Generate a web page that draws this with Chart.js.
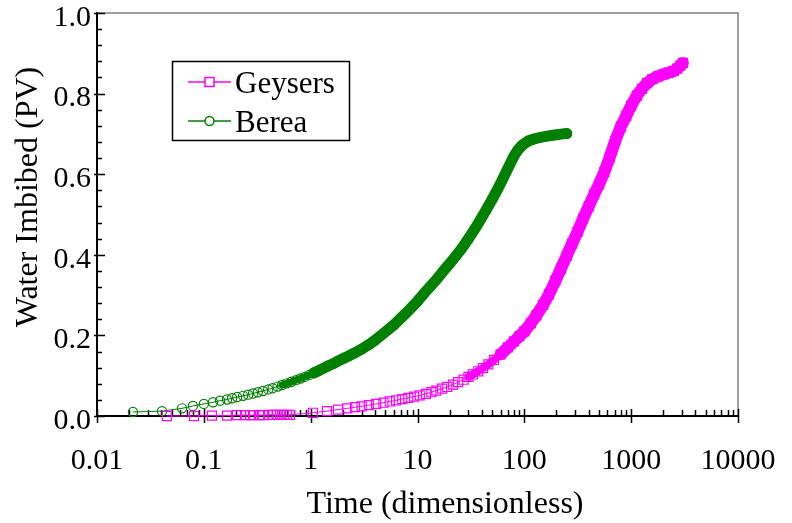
<!DOCTYPE html>
<html>
<head>
<meta charset="utf-8">
<script src="https://cdn.jsdelivr.net/npm/chart.js@4/dist/chart.umd.min.js"></script>
<style>
  html, body { margin: 0; padding: 0; background: #fff; }
  #wrap { width: 792px; height: 523px; }
</style>
</head>
<body>
<div id="wrap"><canvas id="chart" width="792" height="523"></canvas></div>
<script>
// Values
const geysersTime = [0.045,0.081,0.119,0.165,0.205,0.243,0.27,0.289,0.336,0.36,0.40,0.445,0.48,0.517,0.56,0.60,0.64,
  1.05,1.42,1.8,2.2,2.6,3.0,3.5,4.1,4.8,5.5,6.3,7.2,8.2,9.3,10.5,12,13.5,15,17,19,21.5,24,27,30,33,37,41,46,
  52,60,70,80,90,100,115,130,150,170,195,220,250,280,316,355,400,450,500,560,630,710,800,900,1000,
  1130,1260,1410,1580,1780,2000,2250,2500,2700,2900,3050];
const geysersWater = [0.000,0.000,0.001,0.001,0.002,0.002,0.002,0.002,0.002,0.002,0.003,0.003,0.003,0.003,0.003,0.003,0.003,
  0.008,0.012,0.016,0.019,0.022,0.024,0.027,0.030,0.033,0.036,0.039,0.042,0.045,0.048,0.051,0.055,0.059,0.063,0.068,0.072,0.078,0.084,0.090,0.097,0.103,0.111,0.119,0.128,
  0.139,0.153,0.170,0.185,0.198,0.210,0.230,0.250,0.276,0.302,0.335,0.366,0.398,0.428,0.458,0.490,0.520,0.550,0.575,0.605,0.642,0.683,0.718,0.745,0.770,
  0.795,0.812,0.826,0.836,0.843,0.848,0.852,0.856,0.862,0.870,0.876];

const bereaTime = [0.0217,0.0406,0.0625,0.079,0.100,0.122,0.142,0.165,0.184,0.205,0.233,0.26,0.289,0.32,0.358,0.40,0.44,0.49,0.54,0.6,
  0.66,0.73,0.8,0.88,0.97,1.07,1.2,1.4,1.6,1.8,2.0,2.3,2.6,3.0,3.5,4.0,4.6,5.3,6.0,7.0,8.0,9.0,10,11.5,13,15,17.5,20,23,26,
  30,34,39,44,50,56,62,68,74,80,87,94,100,110,125,145,170,200,230,250];
const bereaWater = [0.010,0.012,0.019,0.025,0.030,0.034,0.038,0.041,0.044,0.047,0.050,0.053,0.056,0.059,0.062,0.066,0.069,0.073,0.077,0.081,
  0.085,0.089,0.093,0.097,0.102,0.107,0.113,0.122,0.129,0.136,0.142,0.150,0.157,0.166,0.177,0.188,0.201,0.214,0.226,0.243,0.258,0.272,0.285,0.304,0.320,0.338,0.360,0.378,0.398,0.416,
  0.440,0.462,0.488,0.512,0.538,0.562,0.585,0.607,0.627,0.645,0.660,0.670,0.676,0.683,0.688,0.692,0.695,0.698,0.700,0.701];

const xTickLabels = ['0.01', '0.1', '1', '10', '100', '1000', '10000'];
const yTickLabels = ['0.0', '0.2', '0.4', '0.6', '0.8', '1.0'];
const seriesNames = ['Geysers', 'Berea'];

const MAGENTA = '#ff00ff';
const GREEN = '#008000';
const FONT = "'Liberation Serif', 'Times New Roman', 'DejaVu Serif', serif";

// where the markers pile up into a solid band
const solidFrom = { Geysers: 30, Berea: 0.5 };

const toPoints = (xs, ys) => xs.map((x, i) => ({ x: x, y: ys[i] }));

const bandWidth = (name, w) => ctx => {
    const x = ctx.p0.parsed.x;
    if (x >= solidFrom[name] * 2) return w;
    if (x >= solidFrom[name]) return w - 4;
    return 1;
};

// axes, ticks, titles and legend drawn by hand so they match the old plotting package
const framePlugin = {
    id: 'frame',
    beforeDatasetsDraw(chart) {
        const { ctx, chartArea: a, scales } = chart;
        const xs = scales.x, ys = scales.y;
        ctx.save();
        // top and right frame in grey
        ctx.strokeStyle = '#808080';
        ctx.lineWidth = 1.5;
        ctx.beginPath();
        ctx.moveTo(a.left, a.top);
        ctx.lineTo(a.right, a.top);
        ctx.lineTo(a.right, a.bottom);
        ctx.stroke();

        ctx.strokeStyle = '#000';
        ctx.lineWidth = 2;
        ctx.beginPath();
        ctx.moveTo(a.left, a.top - 1);
        ctx.lineTo(a.left, a.bottom);
        ctx.lineTo(a.right, a.bottom);
        ctx.stroke();

        // y ticks
        ctx.lineWidth = 1.5;
        ctx.beginPath();
        for (let i = 0; i <= 25; i++) {
            const v = i * 0.04;
            const py = Math.round(ys.getPixelForValue(v)) + 0.5;
            const major = i % 5 === 0;
            ctx.moveTo(a.left - (major ? 3 : 0), py);
            ctx.lineTo(a.left + (major ? 8 : 5), py);
        }
        // x ticks
        for (let e = -2; e <= 4; e++) {
            const d = Math.pow(10, e);
            const px = Math.round(xs.getPixelForValue(d)) + 0.5;
            ctx.moveTo(px, a.bottom + 7);
            ctx.lineTo(px, a.bottom - 7);
            if (e < 4) {
                for (let k = 2; k <= 9; k++) {
                    const mx = Math.round(xs.getPixelForValue(d * k)) + 0.5;
                    ctx.moveTo(mx, a.bottom);
                    ctx.lineTo(mx, a.bottom - 6);
                }
            }
        }
        ctx.stroke();
        ctx.restore();
    },
    afterDraw(chart) {
        const { ctx } = chart;
        ctx.save();
        ctx.fillStyle = '#000';
        ctx.font = '32px ' + FONT;
        ctx.textAlign = 'center';
        ctx.textBaseline = 'alphabetic';
        ctx.fillText('Time (dimensionless)', 445, 513);

        ctx.translate(37, 197);
        ctx.rotate(-Math.PI / 2);
        ctx.fillText('Water Imbibed (PV)', 0, 0);
        ctx.restore();

        // legend
        ctx.save();
        ctx.strokeStyle = '#000';
        ctx.lineWidth = 1.5;
        ctx.strokeRect(172.5, 61.5, 177, 79);
        const items = [
            { name: seriesNames[0], color: MAGENTA, y: 82, shape: 'rect' },
            { name: seriesNames[1], color: GREEN, y: 121, shape: 'circle' }
        ];
        items.forEach(it => {
            ctx.strokeStyle = it.color;
            ctx.lineWidth = 1.5;
            ctx.beginPath();
            ctx.moveTo(188, it.y);
            ctx.lineTo(231, it.y);
            ctx.stroke();
            ctx.beginPath();
            if (it.shape === 'rect') {
                ctx.rect(205, it.y - 4.5, 9, 9);
            } else {
                ctx.arc(209.5, it.y, 4.5, 0, Math.PI * 2);
            }
            ctx.fillStyle = '#fff';
            ctx.fill();
            ctx.stroke();
            ctx.fillStyle = '#000';
            ctx.font = '31px ' + FONT;
            ctx.textAlign = 'left';
            ctx.textBaseline = 'alphabetic';
            ctx.fillText(it.name, 235, it.y + 11);
        });
        ctx.restore();
    }
};

function drawChart() {
    new Chart(document.getElementById('chart'), {
        type: 'scatter',
        data: {
            datasets: [
                {
                    label: seriesNames[0],
                    data: toPoints(geysersTime, geysersWater),
                    showLine: true,
                    borderColor: MAGENTA,
                    borderWidth: 1,
                    borderCapStyle: 'round',
                    borderJoinStyle: 'round',
                    segment: { borderWidth: bandWidth('Geysers', 12) },
                    pointStyle: 'rect',
                    pointRadius: 6.4,
                    pointBorderWidth: 1.2,
                    pointBorderColor: MAGENTA,
                    pointBackgroundColor: 'rgba(0,0,0,0)',
                    clip: false
                },
                {
                    label: seriesNames[1],
                    data: toPoints(bereaTime, bereaWater),
                    showLine: true,
                    borderColor: GREEN,
                    borderWidth: 1,
                    borderCapStyle: 'round',
                    borderJoinStyle: 'round',
                    segment: { borderWidth: bandWidth('Berea', 11) },
                    pointStyle: 'circle',
                    pointRadius: 4.6,
                    pointBorderWidth: 1.2,
                    pointBorderColor: GREEN,
                    pointBackgroundColor: 'rgba(0,0,0,0)',
                    clip: false
                }
            ]
        },
        options: {
            responsive: false,
            animation: false,
            devicePixelRatio: 1,
            layout: { padding: { top: 13, right: 54, left: 0, bottom: 0 } },
            plugins: {
                legend: { display: false },
                tooltip: { enabled: false }
            },
            scales: {
                x: {
                    type: 'logarithmic',
                    min: 0.01,
                    max: 10000,
                    grid: { display: false, drawTicks: false },
                    border: { display: false },
                    afterFit: s => { s.height = 107; s.paddingLeft = 0; s.paddingRight = 0; },
                    ticks: {
                        autoSkip: false,
                        maxRotation: 0,
                        padding: 27,
                        color: '#000',
                        font: { family: FONT, size: 30 },
                        callback: v => {
                            const e = Math.log10(v);
                            if (Math.abs(e - Math.round(e)) > 1e-6) return '';
                            return xTickLabels[Math.round(e) + 2];
                        }
                    }
                },
                y: {
                    min: 0,
                    max: 1,
                    grid: { display: false, drawTicks: false },
                    border: { display: false },
                    afterFit: s => { s.width = 97; s.paddingTop = 0; s.paddingBottom = 0; },
                    ticks: {
                        stepSize: 0.2,
                        padding: 6,
                        labelOffset: 5,
                        color: '#000',
                        font: { family: FONT, size: 30 },
                        callback: v => yTickLabels[Math.round(v * 5)]
                    }
                }
            }
        },
        plugins: [framePlugin]
    });
}

if (document.fonts && document.fonts.load) {
    Promise.all([
        document.fonts.load("30px 'Liberation Serif'"),
        document.fonts.load("30px 'Times New Roman'")
    ]).then(drawChart, drawChart);
} else {
    drawChart();
}
</script>
</body>
</html>
